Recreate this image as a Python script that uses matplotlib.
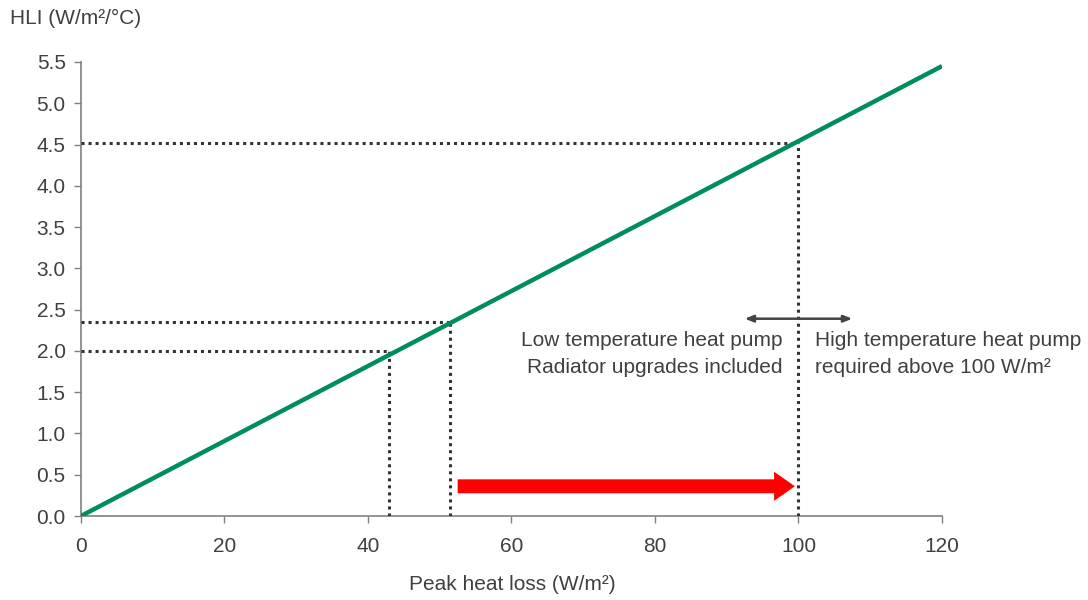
import matplotlib.pyplot as plt
from matplotlib.patches import FancyArrowPatch

plt.rcParams["font.family"] = ["Liberation Sans", "DejaVu Sans"]

# HLI line
heat_loss = [0, 120]
hli = [0, 5.45]

# reference points (x, y) marked with dotted guides
guide_x = [43, 51.5, 100]
guide_y = [2.0, 2.35, 4.52]

# arrows
red_arrow_x = [52.5, 99.5]
red_arrow_y = 0.36
split_arrow_x = [92.5, 107.5]
split_arrow_y = 2.39

FS = 15

fig = plt.figure(figsize=(10.88, 6), dpi=100)
ax = fig.add_axes([0.0744, 0.14, 0.7914, 0.7567])

ax.plot(heat_loss, hli, color="#008C5E", linewidth=3.2, solid_capstyle="butt", zorder=4)

for gx, gy in zip(guide_x, guide_y):
    ax.plot([0, gx], [gy, gy], color="#333333", linestyle=(0, (1, 1.3)), linewidth=2.2, zorder=3)
    ax.plot([gx, gx], [0, gy], color="#333333", linestyle=(0, (1, 1.3)), linewidth=2.2, zorder=3)

red = FancyArrowPatch((red_arrow_x[0], red_arrow_y), (red_arrow_x[1], red_arrow_y),
                      arrowstyle="simple,head_length=0.75,head_width=1.05,tail_width=0.5",
                      mutation_scale=20, color="#FF0000", lw=0, shrinkA=0, shrinkB=0, zorder=5)
ax.add_patch(red)
ax.annotate("", xy=(split_arrow_x[1], split_arrow_y), xytext=(split_arrow_x[0], split_arrow_y),
            arrowprops=dict(arrowstyle="<|-|>,head_length=0.5,head_width=0.2", color="#444444",
                            lw=1.8, shrinkA=0, shrinkB=0), zorder=5)

ax.text(97.8, 1.96, "Low temperature heat pump\nRadiator upgrades included", ha="right", va="center",
        fontsize=FS, color="#404040", linespacing=1.5)
ax.text(102.3, 1.96, "High temperature heat pump\nrequired above 100 W/m²", ha="left", va="center",
        fontsize=FS, color="#404040", linespacing=1.5)

ax.set_xlim(0, 120)
ax.set_ylim(0, 5.5)
ax.set_xticks(range(0, 121, 20))
ax.set_yticks([i * 0.5 for i in range(12)])
ax.set_yticklabels([f"{i * 0.5:.1f}" for i in range(12)])
ax.tick_params(direction="out", length=5, width=1, color="#808080", labelsize=FS,
               labelcolor="#404040", pad=6)
ax.tick_params(axis="x", pad=10)
for s in ["top", "right"]:
    ax.spines[s].set_visible(False)
for s in ["left", "bottom"]:
    ax.spines[s].set_color("#808080")
    ax.spines[s].set_linewidth(1.2)

fig.text(0.009, 0.97, "HLI (W/m²/°C)", fontsize=FS, color="#404040", ha="left", va="center")
fig.text(0.471, 0.025, "Peak heat loss (W/m²)", fontsize=FS, color="#404040", ha="center", va="center")

fig.savefig("out.png", dpi=100)
